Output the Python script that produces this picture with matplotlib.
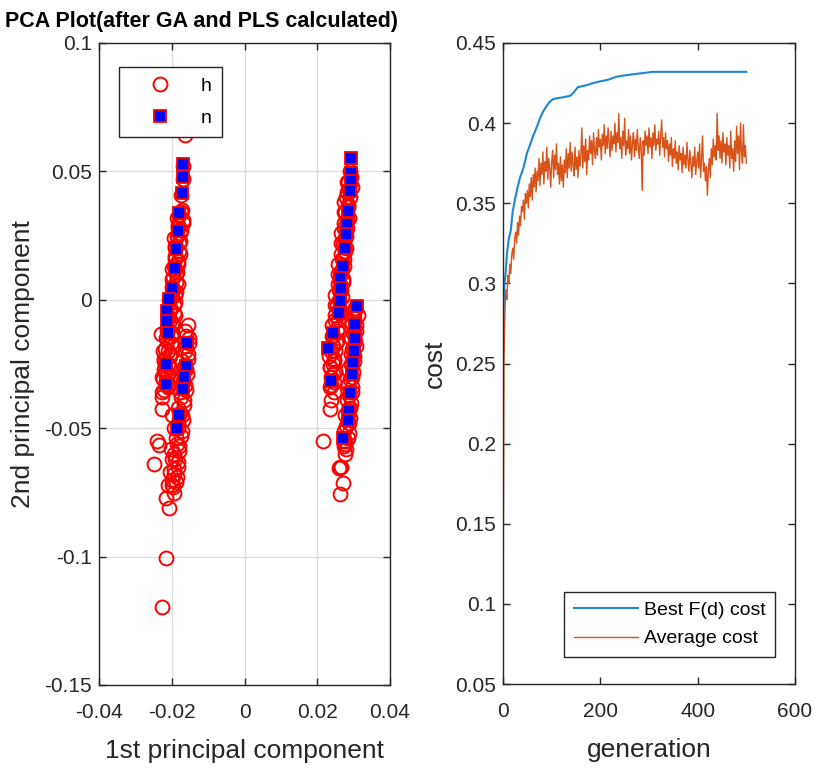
import matplotlib
matplotlib.use("Agg")
import matplotlib.pyplot as plt
import numpy as np

plt.rcParams['font.family'] = ['Liberation Sans', 'DejaVu Sans']
plt.rcParams['axes.unicode_minus'] = False

# ---- left panel: PCA scores (class h = red circles, class n = blue squares)
h_x = [
    # strip A (left cluster, main)
    -0.0163, -0.0168, -0.0170, -0.0175,
    -0.0172, -0.0180, -0.0170, -0.0183, -0.0175, -0.0186, -0.0178, -0.0190, -0.0181, -0.0192,
    -0.0183, -0.0195, -0.0185, -0.0197, -0.0187, -0.0200, -0.0189, -0.0203, -0.0192, -0.0206,
    -0.0195, -0.0209, -0.0198, -0.0212, -0.0200, -0.0215, -0.0203, -0.0218, -0.0206, -0.0220,
    -0.0209, -0.0222, -0.0211, -0.0224, -0.0213, -0.0220,
    -0.0174, -0.0185, -0.0170, -0.0183, -0.0176, -0.0193, -0.0180, -0.0192, -0.0177, -0.0190,
    -0.0183, -0.0200, -0.0187, -0.0198, -0.0184, -0.0197, -0.0190, -0.0207, -0.0194, -0.0205,
    -0.0190, -0.0204, -0.0197, -0.0214, -0.0201, -0.0212, -0.0197, -0.0210, -0.0204, -0.0221,
    -0.0208, -0.0219, -0.0204, -0.0217, -0.0210, -0.0228,
    # strip B (left cluster, second)
    -0.0155, -0.0160, -0.0152, -0.0163, -0.0156, -0.0166, -0.0159, -0.0170, -0.0162, -0.0174,
    -0.0166, -0.0178, -0.0170, -0.0182, -0.0175, -0.0186, -0.0180, -0.0190, -0.0183, -0.0193,
    -0.0187, -0.0196,
    -0.0163, -0.0152, -0.0164, -0.0154, -0.0171, -0.0162, -0.0177, -0.0164, -0.0176, -0.0165,
    -0.0183, -0.0172, -0.0184, -0.0172, -0.0189, -0.0181, -0.0195, -0.0182, -0.0194, -0.0185,
    -0.0199,
    -0.0200, -0.0195, -0.0203, -0.0198, -0.0205, -0.0210, -0.0200,
    # left outliers
    -0.0230, -0.0226, -0.0226, -0.0240, -0.0234, -0.0248, -0.0216, -0.0193, -0.0207, -0.0216,
    -0.0227, -0.0225, -0.0228,
    # strip C (right cluster, main)
    0.0290, 0.0284, 0.0288, 0.0280, 0.0285, 0.0277, 0.0283, 0.0274, 0.0280, 0.0271,
    0.0277, 0.0268, 0.0274, 0.0265, 0.0271, 0.0260, 0.0267, 0.0255, 0.0262, 0.0250,
    0.0257, 0.0244, 0.0251, 0.0238, 0.0246, 0.0236, 0.0243, 0.0238, 0.0245,
    0.0293, 0.0281, 0.0295, 0.0282, 0.0289, 0.0273, 0.0285, 0.0273, 0.0287, 0.0274,
    0.0281, 0.0265, 0.0277, 0.0265, 0.0279, 0.0266, 0.0273, 0.0257, 0.0269, 0.0257,
    0.0271, 0.0258, 0.0265, 0.0249, 0.0261, 0.0249, 0.0263, 0.0250, 0.0257, 0.0241,
    0.0253, 0.0241, 0.0255, 0.0242, 0.0249, 0.0233, 0.0245, 0.0234, 0.0249, 0.0237,
    0.0246, 0.0236,
    # strip D (right cluster, second)
    0.0305, 0.0300, 0.0306, 0.0298, 0.0303, 0.0295, 0.0301, 0.0293, 0.0299, 0.0290,
    0.0296, 0.0287, 0.0293, 0.0284, 0.0290, 0.0280, 0.0286, 0.0275, 0.0280,
    0.0303, 0.0311, 0.0295, 0.0306, 0.0294, 0.0306, 0.0293, 0.0301, 0.0285, 0.0296,
    0.0284, 0.0296, 0.0283, 0.0291, 0.0275, 0.0286, 0.0274, 0.0284, 0.0273, 0.0277,
    # right outliers
    0.0215, 0.0262, 0.0265, 0.0259, 0.0270, 0.0262, 0.0234, 0.0243, 0.0276, 0.0238,
]
h_y = [
    0.064, 0.052, 0.047, 0.041,
    0.035, 0.033, 0.031, 0.029, 0.027, 0.025, 0.023, 0.021, 0.019, 0.017,
    0.015, 0.013, 0.011, 0.009, 0.007, 0.005, 0.003, 0.001, -0.001, -0.003,
    -0.005, -0.007, -0.009, -0.011, -0.013, -0.015, -0.017, -0.019, -0.021, -0.023,
    -0.025, -0.027, -0.029, -0.031, -0.033, -0.035,
    0.034, 0.032, 0.030, 0.028, 0.026, 0.024, 0.022, 0.020, 0.018, 0.016,
    0.014, 0.012, 0.010, 0.008, 0.006, 0.004, 0.002, 0.000, -0.002, -0.004,
    -0.006, -0.008, -0.010, -0.012, -0.014, -0.016, -0.018, -0.020, -0.022, -0.024,
    -0.026, -0.028, -0.030, -0.032, -0.034, -0.036,
    -0.010, -0.014, -0.017, -0.020, -0.023, -0.026, -0.029, -0.032, -0.035, -0.038,
    -0.041, -0.044, -0.047, -0.050, -0.053, -0.056, -0.059, -0.062, -0.065, -0.068,
    -0.071, -0.073,
    -0.012, -0.015, -0.018, -0.021, -0.024, -0.027, -0.030, -0.033, -0.036, -0.039,
    -0.042, -0.045, -0.048, -0.051, -0.054, -0.057, -0.060, -0.063, -0.066, -0.069,
    -0.072,
    -0.045, -0.050, -0.058, -0.062, -0.067, -0.072, -0.070,
    -0.0133, -0.0380, -0.0424, -0.0548, -0.0567, -0.0638, -0.0770, -0.0754, -0.0810, -0.1007,
    -0.1198, -0.020, -0.030,
    0.050, 0.046, 0.043, 0.040, 0.037, 0.034, 0.031, 0.028, 0.025, 0.022,
    0.019, 0.016, 0.013, 0.010, 0.007, 0.004, 0.001, -0.002, -0.005, -0.008,
    -0.011, -0.014, -0.017, -0.020, -0.023, -0.026, -0.029, -0.033, -0.036,
    0.048, 0.046, 0.044, 0.042, 0.040, 0.038, 0.036, 0.034, 0.032, 0.030,
    0.028, 0.026, 0.024, 0.022, 0.020, 0.018, 0.016, 0.014, 0.012, 0.010,
    0.008, 0.006, 0.004, 0.002, 0.000, -0.002, -0.004, -0.006, -0.008, -0.010,
    -0.012, -0.014, -0.016, -0.018, -0.020, -0.022, -0.024, -0.026, -0.028, -0.030,
    -0.032, -0.034,
    -0.004, -0.007, -0.010, -0.013, -0.016, -0.019, -0.022, -0.025, -0.028, -0.031,
    -0.034, -0.037, -0.040, -0.043, -0.046, -0.049, -0.052, -0.055, -0.058,
    -0.003, -0.006, -0.009, -0.012, -0.015, -0.018, -0.021, -0.024, -0.027, -0.030,
    -0.033, -0.036, -0.039, -0.042, -0.045, -0.048, -0.051, -0.054, -0.057, -0.060,
    -0.0548, -0.0653, -0.0650, -0.0656, -0.0715, -0.0755, -0.0424, -0.0249, -0.0560, -0.0390,
]
n_x = [
    # left cluster
    -0.0168, -0.0168, -0.0173, -0.0180, -0.0182, -0.0188, -0.0190, -0.0198, -0.0207, -0.0214,
    -0.0212, -0.0210, -0.0216, -0.0216,
    -0.0157, -0.0160, -0.0166, -0.0170, -0.0180, -0.0185,
    # right cluster
    0.0294, 0.0292, 0.0292, 0.0290, 0.0285, 0.0282, 0.0280, 0.0275, 0.0270, 0.0262,
    0.0264, 0.0262, 0.0260, 0.0243, 0.0230, 0.0239,
    0.0308, 0.0304, 0.0303, 0.0300, 0.0298, 0.0296, 0.0291, 0.0288, 0.0284, 0.0270,
]
n_y = [
    0.053, 0.048, 0.0417, 0.0339, 0.0269, 0.0199, 0.0125, 0.0047, 0.0004, -0.0042,
    -0.0081, -0.0128, -0.0250, -0.0327,
    -0.0170, -0.0257, -0.0300, -0.0347, -0.0450, -0.0500,
    0.0554, 0.0495, 0.0463, 0.0424, 0.0346, 0.0296, 0.0257, 0.0203, 0.0133, 0.0086,
    0.0047, -0.0004, -0.0050, -0.0128, -0.0186, -0.0315,
    -0.0023, -0.0095, -0.0147, -0.0198, -0.0245, -0.0288, -0.0361, -0.0432, -0.0470, -0.0537,
]

# ---- right panel: GA convergence
best_gen = [0, 1, 3, 5, 8, 12, 16, 20, 25, 30, 35, 42, 49, 55, 62, 70, 76, 82, 88, 95,
            103, 120, 138, 145, 154, 170, 185, 199, 215, 234, 255, 281, 308, 500]
best_cost = [0.254, 0.285, 0.300, 0.305, 0.318, 0.328, 0.333, 0.345, 0.353, 0.360,
             0.366, 0.372, 0.381, 0.386, 0.392, 0.398, 0.403, 0.407, 0.410, 0.413,
             0.415, 0.416, 0.417, 0.419, 0.4225, 0.4235, 0.425, 0.426, 0.427, 0.429,
             0.430, 0.431, 0.432, 0.432]

avg_cost = [
    0.077, 0.250, 0.282, 0.296, 0.290, 0.305, 0.300, 0.312, 0.306, 0.318,
    0.322, 0.315, 0.328, 0.332, 0.325, 0.338, 0.330, 0.342, 0.336, 0.348,
    0.345, 0.352, 0.340, 0.356, 0.350, 0.358, 0.347, 0.362, 0.354, 0.366,
    0.352, 0.368, 0.360, 0.372, 0.357, 0.370, 0.364, 0.378, 0.361, 0.375,
    0.368, 0.382, 0.362, 0.376, 0.370, 0.385, 0.365, 0.378, 0.372, 0.360,
    0.376, 0.383, 0.366, 0.380, 0.371, 0.387, 0.368, 0.375, 0.362, 0.379,
    0.364, 0.374, 0.360, 0.377, 0.369, 0.384, 0.366, 0.381, 0.372, 0.388,
    0.370, 0.382, 0.374, 0.367, 0.385, 0.371, 0.379, 0.366, 0.383, 0.373,
    0.380, 0.397, 0.372, 0.386, 0.376, 0.390, 0.368, 0.383, 0.377, 0.392,
    0.381, 0.389, 0.374, 0.394, 0.383, 0.378, 0.391, 0.380, 0.396, 0.385,
    0.390, 0.377, 0.393, 0.386, 0.399, 0.381, 0.392, 0.384, 0.397, 0.388,
    0.379, 0.395, 0.383, 0.392, 0.387, 0.400, 0.382, 0.394, 0.388, 0.406,
    0.384, 0.391, 0.378, 0.395, 0.386, 0.403, 0.380, 0.389, 0.384, 0.396,
    0.381, 0.392, 0.377, 0.388, 0.394, 0.379, 0.390, 0.383, 0.396, 0.385,
    0.378, 0.391, 0.384, 0.358, 0.389, 0.380, 0.395, 0.386, 0.392, 0.381,
    0.397, 0.385, 0.391, 0.378, 0.394, 0.386, 0.399, 0.383, 0.390, 0.387,
    0.395, 0.380, 0.392, 0.402, 0.385, 0.391, 0.379, 0.394, 0.384, 0.389,
    0.376, 0.387, 0.380, 0.391, 0.373, 0.384, 0.378, 0.389, 0.375, 0.382,
    0.371, 0.386, 0.377, 0.381, 0.369, 0.385, 0.374, 0.380, 0.372, 0.388,
    0.377, 0.370, 0.383, 0.375, 0.366, 0.379, 0.373, 0.385, 0.368, 0.376,
    0.382, 0.372, 0.387, 0.366, 0.378, 0.392, 0.370, 0.375, 0.364, 0.373,
    0.355, 0.371, 0.378, 0.366, 0.384, 0.374, 0.390, 0.379, 0.386, 0.377,
    0.406, 0.383, 0.392, 0.378, 0.389, 0.375, 0.394, 0.382, 0.387, 0.374,
    0.391, 0.380, 0.386, 0.372, 0.395, 0.378, 0.384, 0.370, 0.389, 0.376,
    0.398, 0.381, 0.392, 0.371, 0.400, 0.383, 0.375, 0.399, 0.379, 0.386,
    0.375,
]
avg_gen = np.arange(len(avg_cost)) * 2

txt = '#262626'

fig = plt.figure(figsize=(8.18, 7.69), dpi=100)

ax1 = fig.add_axes([99 / 818, 1 - 685 / 769, 291 / 818, 642 / 769])
ax1.plot(h_x, h_y, 'o', ms=10, mfc='none', mec='red', mew=1.4, label='h')
ax1.plot(n_x, n_y, 's', ms=8, mfc='blue', mec='red', mew=1.3, label='n')
ax1.set_xlim(-0.04, 0.04)
ax1.set_ylim(-0.15, 0.1)
ax1.set_xticks([-0.04, -0.02, 0, 0.02, 0.04])
ax1.set_xticklabels(['-0.04', '-0.02', '0', '0.02', '0.04'])
ax1.set_yticks([-0.15, -0.1, -0.05, 0, 0.05, 0.1])
ax1.set_yticklabels(['-0.15', '-0.1', '-0.05', '0', '0.05', '0.1'])
ax1.grid(True, color='#dcdcdc', lw=0.9)
ax1.set_axisbelow(True)
ax1.set_xlabel('1st principal component', fontsize=19, color=txt, labelpad=12)
ax1.set_ylabel('2nd principal component', fontsize=19, color=txt, labelpad=7)
leg1 = ax1.legend(loc='upper left', bbox_to_anchor=(0.07, 0.962), borderaxespad=0,
                  fontsize=14, handlelength=3.2, handletextpad=0.5, fancybox=False,
                  edgecolor='#262626', framealpha=1, borderpad=0.5, labelspacing=0.75)
leg1.get_frame().set_linewidth(1.0)

ax2 = fig.add_axes([503 / 818, 1 - 684 / 769, 292 / 818, 641 / 769])
ax2.plot(best_gen, best_cost, color='#1f86cf', lw=1.5, label='Best F(d) cost')
ax2.plot(avg_gen, avg_cost, color='#D95319', lw=1.0, label='Average cost')
ax2.set_xlim(0, 600)
ax2.set_ylim(0.05, 0.45)
ax2.set_xticks([0, 200, 400, 600])
ax2.set_yticks([0.05, 0.1, 0.15, 0.2, 0.25, 0.3, 0.35, 0.4, 0.45])
ax2.set_yticklabels(['0.05', '0.1', '0.15', '0.2', '0.25', '0.3', '0.35', '0.4', '0.45'])
ax2.set_xlabel('generation', fontsize=19, color=txt, labelpad=12)
ax2.set_ylabel('cost', fontsize=19, color=txt, labelpad=6)
leg2 = ax2.legend(loc='lower right', bbox_to_anchor=(0.932, 0.042), borderaxespad=0,
                  fontsize=14, handlelength=3.3, handletextpad=0.3, fancybox=False,
                  edgecolor='#262626', framealpha=1, borderpad=0.5, labelspacing=0.55)
leg2.get_frame().set_linewidth(1.0)

for ax in (ax1, ax2):
    ax.tick_params(direction='in', top=True, right=True, length=5, width=1,
                   labelsize=15, colors=txt, labelcolor=txt)
    ax.tick_params(axis='x', pad=13)
    ax.tick_params(axis='y', pad=5)
    for s in ax.spines.values():
        s.set_color(txt)
        s.set_linewidth(1.0)

fig.text(0.006, 0.986, 'PCA Plot(after GA and PLS calculated)', fontsize=15.5,
         fontweight='bold', va='top', ha='left', color='black')

fig.savefig('out.png', dpi=100)
